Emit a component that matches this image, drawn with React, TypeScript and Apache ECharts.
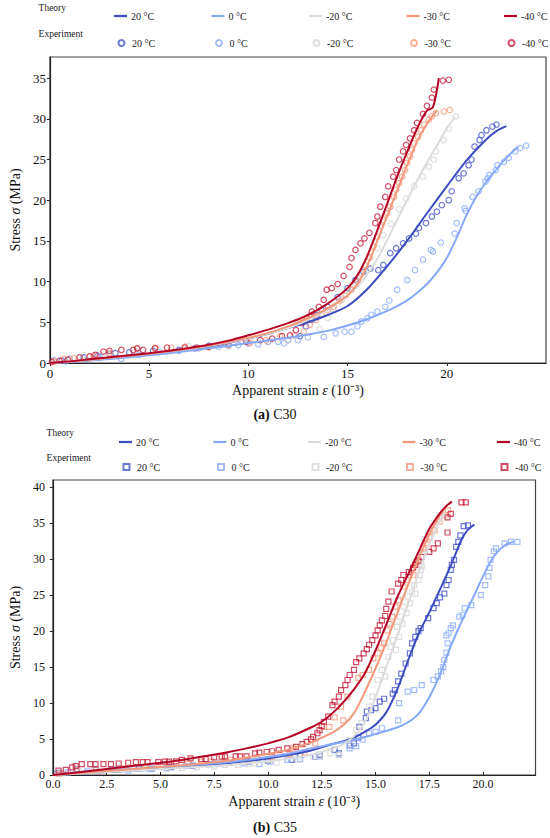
import React, { useEffect, useRef } from "react";
import * as echarts from "echarts";

const FONT = "Liberation Serif";

const TEMPS = ["20 °C", "0 °C", "-20 °C", "-30 °C", "-40 °C"];
const LINE_COLORS = ["#3b4cc0", "#86a8fb", "#dcdcdc", "#f4987a", "#b40426"];
const MARK_COLORS = ["#4657cc", "#8cadfc", "#d6d6d6", "#f59c7f", "#c41f3a"];

// ---- C30 (a) theory curves [strain 1e-3, stress MPa]
const c30Theory20 = [[0,0],[2,0.35],[4,0.8],[6,1.3],[8,2.0],[10,3.0],[11,3.6],[12,4.3],[13,5.0],[14,5.9],[15,7.0],[16,9.1],[17,11.9],[18,15.0],[19,18.4],[20,21.7],[21,24.9],[22,27.5],[22.5,28.5],[23,29.1]];
const c30Theory0 = [[0,0],[2,0.3],[4,0.7],[6,1.2],[8,1.8],[10,2.45],[12,3.1],[13,3.5],[14,3.95],[15,4.6],[16,5.4],[17,6.4],[17.5,7.0],[18,7.7],[18.5,8.6],[19,9.7],[19.5,11.1],[20,12.9],[20.5,15.4],[21,18.2],[21.5,20.5],[22,22.3],[22.5,23.8],[23,25.2],[23.6,26.6]];
const c30TheoryM20 = [[0,0],[2,0.4],[4,0.9],[6,1.4],[8,2.1],[10,3.0],[12,4.3],[13,5.3],[14,6.6],[15,8.3],[15.5,9.4],[16,10.9],[16.5,12.8],[17,15.1],[17.5,17.6],[18,20.0],[18.5,22.4],[19,24.6],[19.5,26.7],[20,28.8],[20.4,30.2]];
const c30TheoryM30 = [[0,0],[2,0.4],[4,0.9],[6,1.45],[8,2.15],[10,3.1],[11,3.7],[12,4.5],[13,5.5],[14,6.7],[15,8.3],[15.5,9.7],[16,12.0],[16.5,15.0],[17,18.1],[17.5,21.2],[18,24.3],[18.5,27.2],[19,29.4],[19.5,31.0]];
const c30TheoryM40 = [[0,0],[1,0.2],[2,0.45],[3,0.7],[4,0.95],[5,1.2],[6,1.5],[7,1.85],[8,2.25],[9,2.75],[10,3.4],[11,4.1],[12,4.9],[13,5.9],[14,7.3],[15,9.2],[15.5,10.8],[16,13.2],[16.5,16.3],[17,19.6],[17.5,22.9],[18,25.9],[18.5,28.8],[19,31.0],[19.3,31.4],[19.6,35.0]];

// ---- C30 (a) experiment points
const c30Exp20 = [[0.2,0.3],[0.6,0.3],[1.0,0.5],[1.7,0.7],[2.4,0.9],[3.0,1.1],[3.3,1.2],[4.0,1.3],[5.2,1.5],[6.5,1.6],[7.3,1.8],[8.0,2.1],[9.0,2.2],[10.0,2.4],[11.0,2.6],[12.0,2.8],[12.6,3.3],[12.9,4.5],[13.2,5.3],[13.45,5.9],[13.7,6.5],[14.0,6.9],[14.5,8.1],[15.0,9.2],[15.4,10.2],[15.8,11.2],[16.15,11.6],[16.55,11.4],[16.8,12.05],[17.15,13.5],[17.45,14.1],[17.8,14.7],[18.1,15.3],[18.45,15.9],[18.6,16.6],[18.95,17.2],[19.25,18.0],[19.5,18.6],[19.75,19.4],[20.1,20.0],[20.25,21.1],[20.6,22.7],[20.85,23.3],[21.1,24.3],[21.25,25.0],[21.4,26.6],[21.65,27.4],[21.75,28.0],[22.0,28.6],[22.3,29.05],[22.5,29.3]];
const c30Exp0 = [[0.2,0.3],[0.8,0.2],[1.7,0.6],[2.5,0.8],[3.6,0.5],[4.5,1.0],[5.5,1.3],[6.5,1.5],[7.5,1.8],[8.5,2.0],[9.5,2.2],[10.5,2.3],[11.5,2.6],[11.8,2.4],[12.5,2.8],[13.0,3.15],[13.8,3.2],[14.4,3.65],[14.85,3.85],[15.2,3.85],[15.5,4.5],[15.7,5.1],[16.0,5.5],[16.2,5.9],[16.5,6.3],[16.9,6.9],[17.1,7.7],[17.5,9.0],[18.0,10.2],[18.4,11.4],[18.8,12.7],[19.2,13.9],[19.3,13.7],[19.7,14.8],[20.4,15.9],[20.5,17.2],[20.9,19.0],[20.95,18.7],[21.3,20.4],[21.6,21.1],[21.95,22.3],[22.06,22.7],[22.14,23.1],[22.47,23.7],[22.55,24.3],[22.88,24.7],[23.12,25.2],[23.45,26.0],[23.7,26.4],[24.0,26.7]];
const c30ExpM20 = [[0.3,0.2],[1.0,0.5],[1.7,1.0],[3.0,1.1],[4.3,1.5],[5.5,1.6],[7.0,2.1],[8.0,2.0],[9.0,2.0],[10.0,2.4],[11.0,2.6],[12.0,2.8],[13.0,3.2],[13.6,4.2],[14.0,5.5],[14.3,6.6],[14.7,7.75],[15.2,9.4],[15.5,10.2],[15.8,11.4],[16.15,12.9],[16.5,14.1],[16.8,15.7],[17.2,17.1],[17.6,18.9],[17.95,20.2],[18.35,21.7],[18.8,22.9],[19.1,24.1],[19.35,25.0],[19.45,26.0],[19.85,27.4],[20.1,28.8],[20.45,30.3]];
const c30ExpM30 = [[0.2,0.2],[0.7,0.5],[1.2,0.6],[2.2,0.9],[3.0,1.2],[4.4,1.8],[5.3,1.9],[6.1,1.9],[6.8,2.0],[8.0,1.9],[9.0,2.3],[10.1,2.5],[10.9,2.8],[11.6,3.3],[12.3,3.4],[12.8,3.85],[13.1,4.7],[13.4,5.3],[13.7,6.0],[14.0,6.5],[14.3,6.9],[14.6,7.6],[14.9,8.3],[15.2,9.0],[15.5,10.0],[15.7,11.0],[15.9,12.0],[16.1,13.0],[16.3,14.3],[16.5,15.5],[16.65,16.8],[16.8,17.6],[17.0,18.4],[17.15,19.2],[17.35,20.4],[17.45,21.3],[17.6,22.1],[17.75,22.9],[17.9,23.7],[18.0,24.6],[18.15,25.4],[18.25,26.2],[18.35,27.0],[18.55,27.8],[18.7,28.6],[18.85,29.3],[19.1,29.9],[19.25,30.3],[19.45,30.7],[19.85,30.9],[20.15,31.1]];
const c30ExpM40 = [[0.1,0.1],[0.5,0.3],[0.9,0.4],[1.5,0.7],[2.0,0.8],[2.3,1.0],[2.7,1.4],[3.0,1.5],[3.6,1.6],[4.2,1.6],[4.4,1.8],[4.7,1.6],[5.3,1.8],[5.9,1.9],[6.8,1.9],[7.4,1.9],[8.0,2.0],[8.8,2.35],[9.9,2.6],[10.6,2.8],[11.2,3.0],[11.7,3.3],[12.1,3.4],[12.4,4.05],[12.7,4.9],[12.95,5.5],[13.2,6.3],[13.55,6.9],[13.8,7.75],[13.95,9.0],[14.2,9.2],[14.5,9.7],[14.8,10.7],[15.1,11.8],[15.2,12.9],[15.4,13.9],[15.65,14.7],[15.85,15.3],[16.1,16.0],[16.4,17.2],[16.5,18.0],[16.65,19.2],[16.9,20.4],[17.05,21.7],[17.3,22.9],[17.45,23.7],[17.6,25.0],[17.8,26.0],[17.95,26.8],[18.15,27.6],[18.35,28.6],[18.5,29.5],[18.8,30.6],[19.0,31.6],[19.25,32.6],[19.35,33.6],[19.8,34.7],[20.1,34.8]];

// ---- C35 (b) theory curves
const c35Theory20 = [[0,0],[2,0.3],[4,0.7],[6,1.1],[8,1.6],[10,2.3],[11,2.8],[12,3.4],[13,4.3],[13.5,4.7],[14,5.2],[14.5,6.0],[15,7.0],[15.5,8.7],[16,11.8],[16.5,15.8],[17,19.6],[17.5,22.6],[18,25.8],[18.5,29.1],[19,32.7],[19.3,34.1],[19.6,34.8]];
const c35Theory0 = [[0,0],[1,0.35],[2,0.6],[4,0.9],[6,1.3],[8,1.75],[10,2.5],[11,3.0],[12,3.7],[13,4.3],[14,4.9],[15,5.7],[16,6.6],[16.5,7.3],[17,8.5],[17.5,10.8],[18,14.0],[18.5,17.9],[19,21.3],[19.5,24.4],[20,27.6],[20.5,30.4],[21,31.9],[21.4,32.4]];
const c35TheoryM20 = [[0,0],[2,0.3],[4,0.65],[6,1.0],[8,1.35],[10,1.9],[11,2.3],[12,2.8],[13,3.7],[13.5,4.3],[14,5.4],[14.5,7.3],[15,10.8],[15.5,15.0],[16,19.2],[16.5,23.6],[17,28.0],[17.5,32.0],[18,35.4],[18.2,36.4]];
const c35TheoryM30 = [[0,0],[2,0.45],[4,0.9],[6,1.35],[8,1.95],[9,2.4],[10,2.95],[11,3.6],[12,4.5],[12.5,5.2],[13,5.9],[13.5,6.9],[14,8.6],[14.5,11.5],[15,14.8],[15.5,18.4],[16,22.4],[16.5,26.3],[17,30.0],[17.5,33.4],[18,36.1],[18.3,37.4]];
const c35TheoryM40 = [[0,0],[1,0.3],[2,0.65],[3,1.0],[4,1.35],[5,1.7],[6,2.1],[7,2.6],[8,3.1],[9,3.7],[10,4.4],[11,5.3],[12,6.6],[12.5,7.4],[13,8.6],[13.5,10.1],[14,11.9],[14.5,14.1],[15,17.3],[15.5,20.9],[16,24.6],[16.5,27.8],[17,31.0],[17.5,34.2],[18,36.4],[18.3,37.4],[18.55,38.0]];

// ---- C35 (b) experiment points
const c35Exp20 = [[0.3,0.3],[1.1,0.8],[2.0,0.7],[3.0,0.8],[4.0,0.9],[4.6,0.9],[5.5,1.1],[6.5,1.3],[7.2,1.5],[8.2,1.7],[9.1,1.85],[10.0,2.0],[11.1,2.1],[11.5,2.8],[12.2,2.5],[12.4,2.8],[13.1,3.5],[13.3,3.0],[13.8,4.1],[14.0,4.4],[14.2,5.2],[14.25,6.7],[14.55,7.9],[14.6,8.8],[14.8,9.0],[15.0,9.3],[15.2,10.2],[15.4,10.6],[15.8,11.3],[15.9,11.8],[16.05,13.0],[16.2,14.1],[16.4,15.5],[16.6,16.9],[16.7,18.3],[16.85,19.2],[17.0,20.0],[17.1,20.4],[17.45,21.8],[17.7,23.2],[17.85,23.9],[18.0,24.7],[18.2,25.2],[18.3,26.4],[18.4,27.1],[18.5,28.5],[18.55,29.2],[18.65,29.9],[18.75,31.7],[18.85,32.4],[18.95,33.3],[19.1,34.6],[19.3,34.7]];
const c35Exp0 = [[0.2,0.23],[0.7,0.37],[1.6,0.5],[2.7,0.7],[3.5,0.6],[4.5,0.8],[5.3,1.0],[6.2,1.25],[7.5,1.5],[7.8,1.62],[8.9,1.62],[9.6,1.5],[10.1,1.85],[10.9,2.1],[11.5,2.2],[12.4,2.55],[13.3,2.8],[13.8,3.7],[14.1,4.0],[14.4,4.9],[14.7,5.8],[15.0,6.0],[15.3,6.5],[16.05,7.6],[16.1,10.0],[16.5,11.6],[16.8,11.8],[17.15,12.5],[17.7,13.2],[17.9,13.7],[18.05,14.4],[18.15,15.0],[18.2,16.0],[18.3,17.0],[18.35,18.3],[18.3,19.4],[18.4,19.7],[18.5,20.4],[18.6,20.8],[18.9,22.0],[19.05,22.2],[19.15,23.2],[19.45,23.6],[19.9,25.0],[20.1,26.4],[20.25,27.6],[20.3,28.8],[20.35,29.9],[20.5,31.1],[20.6,31.5],[21.0,32.2],[21.3,32.4],[21.6,32.4]];
const c35ExpM20 = [[0.45,0.23],[1.2,0.5],[1.9,0.8],[3.0,0.7],[4.3,0.8],[5.3,0.8],[6.0,1.0],[6.7,1.06],[7.5,1.2],[8.0,1.4],[8.6,1.4],[9.1,1.5],[9.4,1.62],[10.1,2.1],[10.4,1.7],[11.2,2.55],[11.4,2.1],[12.1,2.55],[12.4,2.5],[12.9,3.0],[13.3,2.8],[13.8,4.86],[14.1,6.25],[14.35,7.2],[14.7,9.5],[14.85,10.9],[15.1,13.2],[15.3,14.6],[15.45,13.7],[15.6,16.4],[15.7,17.8],[15.8,18.75],[15.95,17.4],[16.0,20.6],[16.1,19.2],[16.15,22.0],[16.25,21.0],[16.3,23.4],[16.45,22.5],[16.5,24.8],[16.6,23.9],[16.7,25.5],[16.85,25.2],[16.8,26.4],[17.0,27.1],[17.05,27.8],[17.1,28.5],[17.15,29.0],[17.15,31.0],[17.3,32.7],[17.45,33.6],[17.98,36.1]];
const c35ExpM30 = [[0.3,0.2],[1.1,0.7],[2.0,0.8],[3.2,0.9],[4.3,1.1],[5.44,1.4],[6.3,1.6],[6.9,1.85],[7.36,1.85],[8.0,1.85],[8.27,2.1],[9.0,2.1],[9.5,2.5],[10.2,2.5],[10.57,3.0],[11.0,2.9],[11.18,3.7],[11.7,3.1],[12.2,4.4],[12.6,6.7],[12.85,6.7],[13.1,8.0],[13.4,9.5],[13.5,7.6],[13.7,10.9],[14.2,13.5],[14.4,13.9],[14.7,14.6],[14.9,16.2],[15.1,16.9],[15.25,17.7],[15.4,18.3],[15.55,20.1],[15.65,21.0],[15.77,22.0],[15.92,23.4],[16.07,24.3],[16.3,26.2],[16.45,27.1],[16.76,27.8],[16.91,29.6],[17.22,31.5],[17.37,32.2],[17.52,33.1],[17.75,34.0],[17.98,35.2],[18.21,36.1],[18.37,36.8]];
const c35ExpM40 = [[0.26,0.6],[0.6,0.7],[0.9,1.07],[1.06,1.25],[1.34,1.5],[1.74,1.5],[1.98,1.5],[2.35,1.5],[2.7,1.5],[3.06,1.6],[3.5,1.7],[3.86,1.8],[4.18,1.8],[4.4,1.8],[4.9,1.8],[5.2,1.85],[5.4,1.85],[5.73,1.9],[6.0,2.1],[6.4,2.3],[6.9,2.2],[7.1,2.2],[7.5,2.45],[7.85,2.55],[8.0,2.6],[8.5,2.6],[8.7,2.6],[9.0,2.6],[9.4,3.0],[9.6,3.1],[9.94,3.2],[10.2,3.3],[10.5,3.5],[10.9,3.7],[11.3,3.9],[11.6,4.3],[11.8,4.6],[12.0,4.95],[12.1,5.3],[12.3,5.8],[12.4,6.25],[12.5,6.8],[12.6,7.4],[12.8,8.1],[13.0,9.7],[13.1,10.2],[13.3,10.9],[13.4,11.8],[13.6,12.5],[13.7,13.2],[13.8,13.9],[14.0,14.6],[14.1,15.7],[14.25,16.2],[14.45,16.9],[14.6,17.5],[14.7,18.1],[14.85,18.75],[15.0,19.4],[15.1,20.1],[15.2,20.8],[15.3,21.5],[15.45,22.1],[15.5,23.1],[15.6,24.1],[15.75,25.5],[16.05,26.6],[16.2,27.1],[16.3,27.8],[16.55,28.2],[16.75,28.8],[16.85,29.2],[17.0,29.8],[17.15,30.3],[17.5,31.0],[17.7,31.5],[17.9,32.2],[18.35,33.7],[18.35,35.8],[18.5,36.3],[19.0,37.9],[19.2,37.9]];

const c30Theory = [c30Theory20, c30Theory0, c30TheoryM20, c30TheoryM30, c30TheoryM40];
const c30Exp = [c30Exp20, c30Exp0, c30ExpM20, c30ExpM30, c30ExpM40];
const c35Theory = [c35Theory20, c35Theory0, c35TheoryM20, c35TheoryM30, c35TheoryM40];
const c35Exp = [c35Exp20, c35Exp0, c35ExpM20, c35ExpM30, c35ExpM40];

function buildSeries(prefix: string, theory: number[][][], exp: number[][][], symbol: string, idx: number, size: number) {
  const out: any[] = [];
  TEMPS.forEach((t, i) => {
    out.push({
      type: "scatter",
      name: `${prefix}::Experiment::${t}`,
      xAxisIndex: idx,
      yAxisIndex: idx,
      data: exp[i],
      symbol,
      symbolSize: size,
      symbolKeepAspect: true,
      itemStyle: { color: "rgba(255,255,255,0)", borderColor: MARK_COLORS[i], borderWidth: 1.2 },
      z: 2,
    });
  });
  TEMPS.forEach((t, i) => {
    out.push({
      type: "line",
      name: `${prefix}::Theory::${t}`,
      xAxisIndex: idx,
      yAxisIndex: idx,
      data: theory[i],
      symbol: "none",
      smooth: 0.3,
      lineStyle: { color: LINE_COLORS[i], width: 2 },
      itemStyle: { color: LINE_COLORS[i] },
      z: 3,
    });
  });
  return out;
}

function buildLegends(prefix: string, kind: string, left0: number, step: number, centerY: number, symbol: string) {
  const isTheory = kind === "Theory";
  const w = isTheory ? 13 : 6;
  const h = isTheory ? 2.2 : 6;
  const shift = isTheory ? 0 : 3.5;
  return TEMPS.map((t, i) => ({
    data: [{ name: `${prefix}::${kind}::${t}`, icon: isTheory ? "rect" : symbol }],
    left: left0 + i * step + shift,
    top: centerY - 6,
    padding: 0,
    itemWidth: w,
    itemHeight: h,
    itemGap: 0,
    selectedMode: false,
    formatter: (n: string) => n.split("::")[2],
    textStyle: { fontFamily: FONT, fontSize: 10, color: "#222", lineHeight: 12, padding: [0, 0, 0, isTheory ? -1 : 2.5] },
  }));
}

const axisLabelStyle = (size: number) => ({ fontFamily: FONT, fontSize: size, color: "#111" });
const nameStyle = {
  fontFamily: FONT,
  fontSize: 14,
  color: "#111",
  rich: { i: { fontFamily: FONT, fontSize: 14, fontStyle: "italic", color: "#111" } },
};

export default function App() {
  const ref = useRef<HTMLDivElement>(null);
  useEffect(() => {
    if (!ref.current) return;
    const chart = echarts.init(ref.current, null, { renderer: "svg" });
    const option: any = {
      animation: false,
      backgroundColor: "#fff",
      textStyle: { fontFamily: FONT },
      grid: [
        { left: 38, top: 57, width: 508, height: 306, show: true, borderColor: "#444", borderWidth: 1.2, backgroundColor: "transparent" },
        { left: 46.3, top: 480, width: 489.2, height: 295, show: true, borderColor: "#444", borderWidth: 1.2, backgroundColor: "transparent" },
      ],
      xAxis: [
        {
          gridIndex: 0, type: "value", min: 0, max: 25, interval: 5,
          axisLine: { lineStyle: { color: "#222", width: 1.2 } },
          axisTick: { inside: false, length: 3, lineStyle: { color: "#222" } },
          axisLabel: { ...axisLabelStyle(13), margin: 4, showMaxLabel: false },
          splitLine: { show: false },
          name: "Apparent strain {i|ε} (10⁻³)", nameLocation: "middle", nameGap: 20, nameTextStyle: nameStyle,
        },
        {
          gridIndex: 1, type: "value", min: 0, max: 22.44, interval: 2.5,
          axisLine: { lineStyle: { color: "#222", width: 1.2 } },
          axisTick: { inside: true, length: 3, lineStyle: { color: "#222" } },
          axisLabel: { ...axisLabelStyle(12), margin: 3, showMaxLabel: false, formatter: (v: number) => v.toFixed(1) },
          splitLine: { show: false },
          name: "Apparent strain {i|ε} (10⁻³)", nameLocation: "middle", nameGap: 19, nameTextStyle: nameStyle,
        },
      ],
      yAxis: [
        {
          gridIndex: 0, type: "value", min: 0, max: 37.6, interval: 5,
          axisLine: { lineStyle: { color: "#222", width: 1.2 } },
          axisTick: { inside: false, length: 3, lineStyle: { color: "#222" } },
          axisLabel: { ...axisLabelStyle(13), margin: 4, showMaxLabel: false },
          splitLine: { show: false },
          name: "Stress {i|σ} (MPa)", nameLocation: "middle", nameGap: 20, nameTextStyle: nameStyle,
        },
        {
          gridIndex: 1, type: "value", min: 0, max: 41, interval: 5,
          axisLine: { lineStyle: { color: "#222", width: 1.2 } },
          axisTick: { inside: false, length: 3, lineStyle: { color: "#222" } },
          axisLabel: { ...axisLabelStyle(12), margin: 8, showMaxLabel: false },
          splitLine: { show: false },
          name: "Stress {i|σ} (MPa)", nameLocation: "middle", nameGap: 20, nameTextStyle: nameStyle,
        },
      ],
      legend: [
        ...buildLegends("C30", "Theory", 114, 97.5, 16, "circle"),
        ...buildLegends("C30", "Experiment", 114, 97.5, 43, "circle"),
        ...buildLegends("C35", "Theory", 119, 94.5, 442, "rect"),
        ...buildLegends("C35", "Experiment", 119, 94.5, 467, "rect"),
      ],
      graphic: [
        { type: "text", x: 38.6, y: 8, style: { text: "Theory", fontFamily: FONT, fontSize: 9.5, fill: "#222", textVerticalAlign: "middle" } },
        { type: "text", x: 38.6, y: 34, style: { text: "Experiment", fontFamily: FONT, fontSize: 9.5, fill: "#222", textVerticalAlign: "middle" } },
        { type: "text", x: 46.6, y: 433, style: { text: "Theory", fontFamily: FONT, fontSize: 9.5, fill: "#222", textVerticalAlign: "middle" } },
        { type: "text", x: 46.6, y: 458, style: { text: "Experiment", fontFamily: FONT, fontSize: 9.5, fill: "#222", textVerticalAlign: "middle" } },
        {
          type: "text", x: 275, y: 414,
          style: {
            text: "{b|(a)} C30", fontFamily: FONT, fontSize: 14, fill: "#111", textAlign: "center", textVerticalAlign: "middle",
            rich: { b: { fontFamily: FONT, fontSize: 14, fontWeight: "bold", fill: "#111" } },
          },
        },
        {
          type: "text", x: 275, y: 827,
          style: {
            text: "{b|(b)} C35", fontFamily: FONT, fontSize: 14, fill: "#111", textAlign: "center", textVerticalAlign: "middle",
            rich: { b: { fontFamily: FONT, fontSize: 14, fontWeight: "bold", fill: "#111" } },
          },
        },
      ],
      series: [
        ...buildSeries("C30", c30Theory, c30Exp, "circle", 0, 5.5),
        ...buildSeries("C35", c35Theory, c35Exp, "rect", 1, 5),
      ],
    };
    chart.setOption(option);
    return () => chart.dispose();
  }, []);
  return <div ref={ref} style={{ position: "absolute", left: 0, top: 0, width: 550, height: 838 }} />;
}
